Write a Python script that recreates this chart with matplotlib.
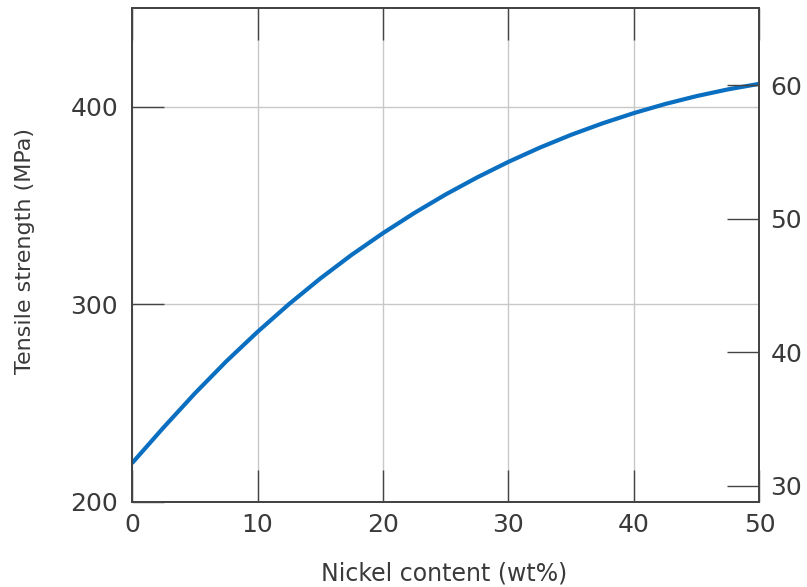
import matplotlib
matplotlib.use("Agg")
import matplotlib.pyplot as plt

# values
nickel = [0, 2.5, 5, 7.5, 10, 12.5, 15, 17.5, 20, 22.5, 25,
          27.5, 30, 32.5, 35, 37.5, 40, 42.5, 45, 47.5, 50]
tensile_mpa = [219.5, 237.5, 254.8, 271, 286, 300, 313, 325, 336, 346.2, 355.6,
               364.2, 372.1, 379.3, 385.8, 391.6, 396.8, 401.4, 405.4, 408.8, 411.6]

x_ticks = [0, 10, 20, 30, 40, 50]
mpa_ticks = [200, 300, 400]
ksi_ticks = [30, 40, 50, 60]

TXT = '#3a3a3a'
AX = '#444444'

plt.rcParams['font.family'] = ['DejaVu Sans']

fig = plt.figure(figsize=(8.07, 5.87), dpi=100)
ax = fig.add_axes([0.1636, 0.1453, 0.7775, 0.8411])

ax.grid(True, color='#c8c8c8', linewidth=1.0, zorder=0)
ax.set_axisbelow(True)
ax.plot(nickel, tensile_mpa, color='#0a6fc0', linewidth=3.0, zorder=3,
        solid_capstyle='butt', solid_joinstyle='round')

ax.set_xlim(0, 50)
ax.set_ylim(200, 450)
ax.set_xticks(x_ticks)
ax.set_yticks(mpa_ticks)
ax.tick_params(axis='both', direction='in', length=23, width=1.0, color=AX,
               labelsize=18, labelcolor=TXT)
ax.tick_params(axis='x', top=True, pad=8)
ax.tick_params(axis='y', pad=10)

for s in ax.spines.values():
    s.set_color(AX)
    s.set_linewidth(1.3)

ax.set_xlabel('Nickel content (wt%)', fontsize=17, color=TXT)
ax.set_ylabel('Tensile strength (MPa)', fontsize=16, color=TXT)
ax.xaxis.set_label_coords(0.497, -0.122)
ax.yaxis.set_label_coords(-0.155, 0.507)

ax2 = ax.twinx()
ax2.set_ylim(28.8, 65.8)
ax2.set_yticks(ksi_ticks)
ax2.tick_params(axis='y', direction='in', length=23, width=1.0, color=AX,
                labelsize=18, labelcolor=TXT, pad=8)
for s in ax2.spines.values():
    s.set_color(AX)
    s.set_linewidth(1.3)

fig.savefig('out.png', dpi=100)
